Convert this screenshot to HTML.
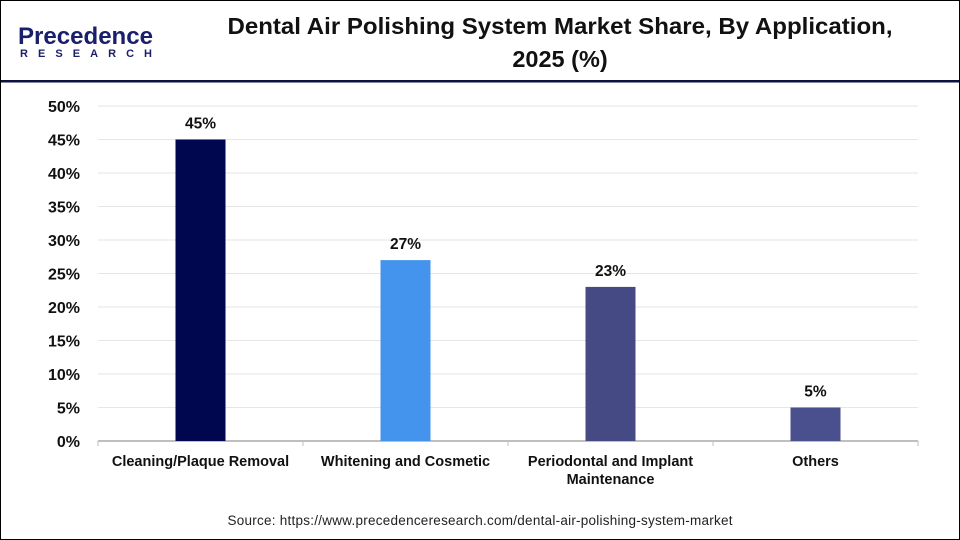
<!DOCTYPE html>
<html><head><meta charset="utf-8"><style>
body{margin:0;width:960px;height:540px;background:#fff;overflow:hidden;font-family:"Liberation Sans",sans-serif}
#frame{position:absolute;left:0;top:0;width:958px;height:538px;border:1px solid #000}
</style></head><body>
<div id="frame"></div>
<svg width="960" height="540" style="position:absolute;left:0;top:0" id="chart">
<g>
<text x="18" y="44" font-size="24" font-weight="bold" fill="#1a1f6b" textLength="135" lengthAdjust="spacingAndGlyphs">Precedence</text>
<text x="20" y="57" font-size="11" font-weight="bold" fill="#1a1f6b" textLength="132">RESEARCH</text>
</g>
<text x="560" y="34" text-anchor="middle" font-size="23" font-weight="bold" fill="#111" textLength="665" lengthAdjust="spacingAndGlyphs">Dental Air Polishing System Market Share, By Application,</text>
<text x="560" y="67" text-anchor="middle" font-size="23.5" font-weight="bold" fill="#111">2025 (%)</text>
<rect x="1" y="80" width="958" height="2.5" fill="#0d1242"/>
<g id="grid"></g><g id="bars"></g>
<text x="480" y="525" text-anchor="middle" font-size="13.5" fill="#222" textLength="505">Source: https://www.precedenceresearch.com/dental-air-polishing-system-market</text>
</svg>
<script>
const categories=["Cleaning/Plaque Removal","Whitening and Cosmetic","Periodontal and Implant|Maintenance","Others"];
const values=[45,27,23,5];
const colors=["#00074f","#4493ec","#454a84","#4a4f8e"];
const ticks=[0,5,10,15,20,25,30,35,40,45,50];
const NS="http://www.w3.org/2000/svg";
const x0=98,x1=918,y0=441,yTop=106;
const yS=v=>y0-(v/50)*(y0-yTop);
const band=(x1-x0)/categories.length;
const xS=i=>x0+band*(i+0.5);
function mk(t,a,p){const e=document.createElementNS(NS,t);for(const k in a)e.setAttribute(k,a[k]);p.appendChild(e);return e;}
const g=document.getElementById('grid'),b=document.getElementById('bars');
ticks.forEach(t=>{
 if(t>0){const l=mk('line',{x1:x0,x2:x1,y1:yS(t),y2:yS(t),stroke:'#e6e6e6'},g);
 
 }
 const tx=mk('text',{x:80,y:yS(t)+6,'text-anchor':'end','font-size':16,'font-weight':'bold',fill:'#111'},g);tx.textContent=t+'%';
 
 
});
const ax=mk('line',{x1:x0,x2:x1,y1:y0,y2:y0,stroke:'#bfbfbf','stroke-width':2},g);


for(let i=0;i<=categories.length;i++){const tk=mk('line',{x1:x0+band*i,x2:x0+band*i,y1:y0,y2:y0+5,stroke:'#bfbfbf'},g);
 
 }
categories.forEach((c,i)=>{
 const r=mk('rect',{x:xS(i)-25,y:yS(values[i]),width:50,height:y0-yS(values[i]),fill:colors[i]},b);
 
 
 const v=mk('text',{x:xS(i),y:yS(values[i])-11,'text-anchor':'middle','font-size':15.5,'font-weight':'bold',fill:'#111'},b);v.textContent=values[i]+'%';
 
 
 c.split('|').forEach((ln,j)=>{const t=mk('text',{x:xS(i),y:466+j*18,'text-anchor':'middle','font-size':14.5,'font-weight':'bold',fill:'#111'},b);t.textContent=ln;
 
 });
});
</script>
</body></html>
